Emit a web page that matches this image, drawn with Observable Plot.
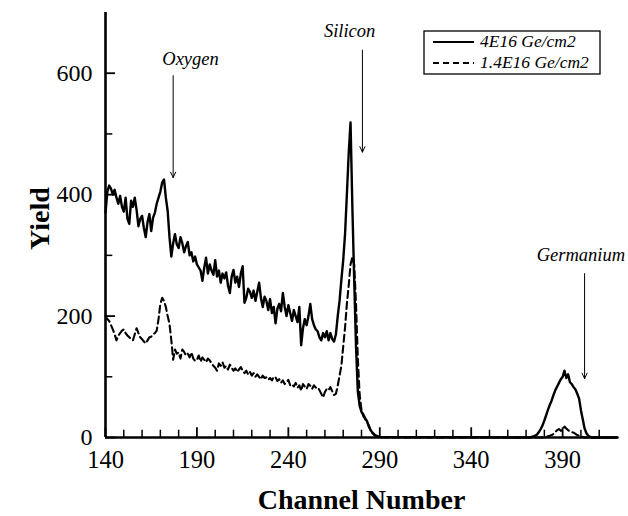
<!DOCTYPE html>
<html><head><meta charset="utf-8">
<script src="https://cdn.jsdelivr.net/npm/d3@7"></script>
<script src="https://cdn.jsdelivr.net/npm/@observablehq/plot@0.6"></script>
<style>
body{margin:0;background:#fff;}
#chart{position:relative;width:628px;height:516px;}
#legend{position:absolute;left:423px;top:30px;}
</style></head><body><div id="chart"></div>
<script>
// ---- data ----
const xTicks = [140, 190, 240, 290, 340, 390];
const xMinorTicks = [150,160,170,180,200,210,220,230,250,260,270,280,300,310,320,330,350,360,370,380,400,410];
const yTicks = [0, 200, 400, 600];
const yMinorTicks = [100, 300, 500];
const seriesNames = ["4E16 Ge/cm2", "1.4E16 Ge/cm2"];
const mainStart = 140; // first channel of main spectrum arrays
const solidMain = [
 370,405,415,410,400,408,395,385,398,380,
 372,395,360,352,390,380,395,375,348,360,
 365,345,330,355,368,340,362,370,385,395,
 405,420,425,395,373,330,298,320,335,318,
 312,330,320,305,315,322,300,305,290,298,
 285,280,275,258,280,296,270,285,275,268,
 292,265,275,255,270,262,272,250,238,265,
 276,255,265,248,270,282,222,230,245,240,
 230,242,225,240,255,230,215,232,225,210,
 228,205,215,188,212,220,208,238,215,200,
 218,205,192,210,200,190,215,152,180,195,
 185,200,220,195,185,178,175,165,160,172,
 165,175,160,172,162,158,170,200,225,260,
 292,335,400,468,519,380,260,150,75,52,
 42,38,32,27,18,12,8,5,3,2,
 1];
const dashedMain = [
 200,195,192,185,178,170,160,168,172,176,
 178,172,168,165,162,160,170,180,172,165,
 162,158,155,160,165,166,170,172,176,195,
 220,230,225,215,200,187,160,128,145,138,
 140,130,145,141,135,138,132,140,130,126,
 128,135,125,132,128,124,130,127,122,118,
 115,110,122,118,124,115,118,112,120,115,
 110,114,108,112,116,110,106,110,104,108,
 102,106,100,104,100,96,102,98,99,95,
 98,94,100,99,93,96,90,94,88,91,
 95,86,88,84,90,82,86,77,88,84,
 80,88,85,80,86,82,83,78,72,66,
 75,80,78,83,76,70,72,85,102,118,
 150,181,220,250,285,297,285,220,130,70,
 45,35,30,26,20,12,7,4,2,1,
 0];
const geStartSolid = 372;
const solidGe = [0,1,2,3,5,9,14,20,28,37,46,54,61,70,78,84,90,96,100,110,98,104,91,88,83,79,72,64,45,30,15,7,3,1,0,0,0,0,0];
const geStartDashed = 380;
const dashedGe = [0,1,2,3,4,6,9,12,14,11,13,18,15,12,10,9,8,6,4,3,2,1,0];
const channelEnd = 420;
const annotationLabels = ["Oxygen", "Silicon", "Germanium"];
const annotationChannel = [177, 280.5, 402];
const annotationTextChannel = [186.5, 273.5, 400];
const annotationTextYield = [613, 659, 290];
const arrowFrom = [596, 638, 270];
const arrowTo = [428, 470, 97];

// ---- build rows ----
function buildRows(main, geStart, ge) {
  const rows = main.map((v, i) => ({channel: mainStart + i, yield: v}));
  ge.forEach((v, i) => rows.push({channel: geStart + i, yield: v}));
  rows.push({channel: channelEnd, yield: 0});
  return rows;
}
const solidRows = buildRows(solidMain, geStartSolid, solidGe);
const dashedRows = buildRows(dashedMain, geStartDashed, dashedGe);
const annotations = annotationLabels.map((label, i) => ({
  label, x: annotationChannel[i], tx: annotationTextChannel[i], ty: annotationTextYield[i],
  y1: arrowFrom[i], y2: arrowTo[i]
}));

const W = 628, H = 516, mL = 105, mR = 11, mT = 12, mB = 79;
// inward tick lengths expressed in scale units (about 7 and 10 px)
const minorLenY = 12, majorLenY = 16, minorLenX = 4, majorLenX = 5.5;

const chart = Plot.plot({
  width: W, height: H,
  marginLeft: mL, marginRight: mR, marginTop: mT, marginBottom: mB,
  style: {fontFamily: "'Liberation Serif', serif", color: "#000", background: "#fff", fontSize: "24px"},
  x: {domain: [140, channelEnd]},
  y: {domain: [0, 700]},
  marks: [
    Plot.axisX({ticks: xTicks, tickSize: 0, tickPadding: 13, fontSize: 24.5, label: null}),
    Plot.axisY({ticks: yTicks, tickSize: 0, tickPadding: 13, fontSize: 24, label: null}),
    Plot.ruleX(xMinorTicks, {x: d => d, y1: 0, y2: minorLenY, stroke: "#000", strokeWidth: 1.5}),
    Plot.ruleX(xTicks, {x: d => d, y1: 0, y2: majorLenY, stroke: "#000", strokeWidth: 1.8}),
    Plot.ruleY(yMinorTicks, {y: d => d, x1: 140, x2: 140 + minorLenX, stroke: "#000", strokeWidth: 1.5}),
    Plot.ruleY(yTicks, {y: d => d, x1: 140, x2: 140 + majorLenX, stroke: "#000", strokeWidth: 1.8}),
    Plot.ruleX([140], {y1: 0, y2: 700, strokeWidth: 2.6}),
    Plot.ruleY([0], {strokeWidth: 2.6}),
    Plot.line(dashedRows, {x: "channel", y: "yield", stroke: "#000", strokeWidth: 2.1, strokeDasharray: "7,4"}),
    Plot.line(solidRows, {x: "channel", y: "yield", stroke: "#000", strokeWidth: 2.4}),
    Plot.arrow(annotations, {x1: "x", x2: "x", y1: "y1", y2: "y2", stroke: "#000", strokeWidth: 1, headLength: 9, headAngle: 50}),
    Plot.text(annotations, {x: "tx", y: "ty", text: "label", fontStyle: "italic", fontSize: 18.5, lineAnchor: "bottom", textAnchor: "middle"}),
    Plot.text(["Channel Number"], {frameAnchor: "bottom", dy: 71, text: d => d, fontSize: 28, fontWeight: "bold", lineAnchor: "bottom"}),
    Plot.text(["Yield"], {frameAnchor: "left", dx: -65, dy: 25, rotate: -90, text: d => d, fontSize: 28, fontWeight: "bold"})
  ]
});
const container = document.getElementById("chart");
container.appendChild(chart);

// ---- legend (overlay inside the plot area) ----
const lg = d3.select(container).append("svg").attr("id", "legend")
  .attr("width", 180).attr("height", 46)
  .style("font-family", "'Liberation Serif', serif");
lg.append("rect").attr("x", 1).attr("y", 1).attr("width", 176).attr("height", 43)
  .attr("fill", "#fff").attr("stroke", "#000").attr("stroke-width", 1.3);
const dashes = [null, "6,4"];
seriesNames.forEach((name, i) => {
  const cy = 12 + i * 21;
  lg.append("line").attr("x1", 10).attr("x2", 51).attr("y1", cy).attr("y2", cy)
    .attr("stroke", "#000").attr("stroke-width", 2.2).attr("stroke-dasharray", dashes[i]);
  lg.append("text").attr("x", 57).attr("y", cy + 5).text(name)
    .style("font-style", "italic").style("font-size", "17.5px");
});
</script></body></html>
